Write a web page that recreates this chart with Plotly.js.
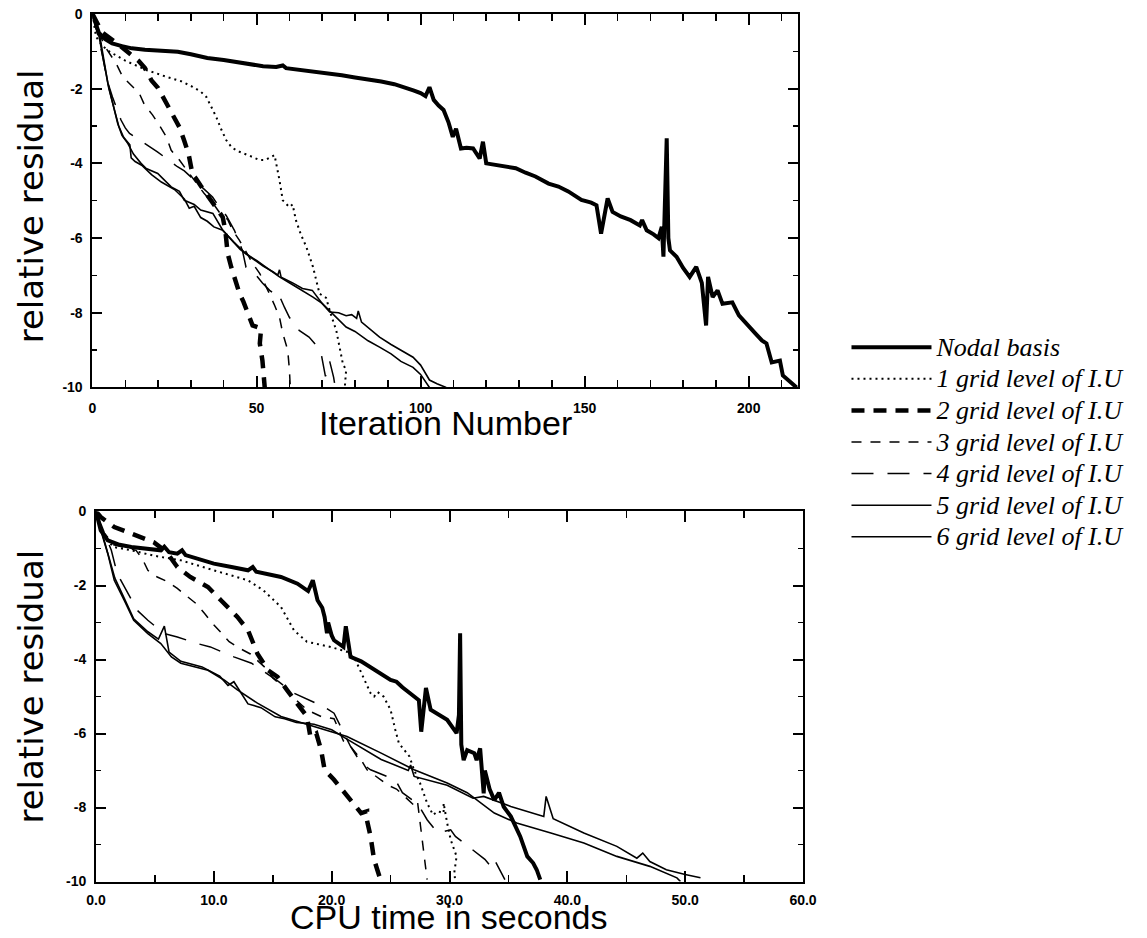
<!DOCTYPE html>
<html>
<head>
<meta charset="utf-8">
<script src="https://cdn.plot.ly/plotly-3.0.1.min.js"></script>
<style>html,body{margin:0;padding:0;background:#fff;}</style>
</head>
<body>
<div id="chart" style="width:1147px;height:938px;"></div>
<script>
// ---------- data: [iteration, log10 relative residual] ----------
const nodalIter = [[0,0],[1,-0.3],[2,-0.51],[4,-0.68],[6,-0.79],[9,-0.86],[12,-0.92],[16,-0.96],[20,-0.99],[26,-1.01],[30,-1.08],[35,-1.18],[40,-1.23],[45,-1.3],[49,-1.37],[52,-1.4],[56,-1.42],[58,-1.38],[59,-1.45],[62,-1.48],[67,-1.55],[72,-1.6],[76,-1.64],[80,-1.7],[85,-1.76],[88,-1.81],[92,-1.88],[96,-1.98],[98,-2.05],[100,-2.12],[101.5,-2.2],[102.7,-1.96],[104,-2.3],[105.5,-2.45],[107,-2.57],[108.5,-2.9],[109.8,-3.29],[110.8,-3.07],[112.3,-3.6],[114,-3.58],[116,-3.6],[118,-3.87],[119,-3.42],[120,-4.0],[123,-4.05],[126,-4.1],[129,-4.13],[132,-4.25],[135,-4.35],[139,-4.54],[142,-4.62],[145,-4.75],[146,-4.8],[149,-4.98],[152,-5.05],[153.6,-5.12],[155,-5.88],[157,-4.94],[158.5,-5.3],[161,-5.42],[164,-5.52],[166.8,-5.66],[167.5,-5.52],[168.9,-5.79],[171,-5.9],[172.5,-6.0],[173.5,-5.7],[174,-6.5],[175,-3.33],[175.5,-6.0],[176,-6.33],[177,-6.4],[178,-6.5],[180,-6.8],[182,-7.04],[184,-6.77],[185.7,-7.2],[187,-8.34],[187.6,-7.04],[189,-7.58],[190.5,-7.4],[192,-7.76],[195,-7.72],[197,-8.07],[200,-8.34],[202,-8.55],[204,-8.74],[205.4,-8.82],[207,-9.33],[209.5,-9.28],[210.4,-9.68],[212,-9.8],[214.6,-10]];
const grid1Iter = [[0,0],[1.1,-0.61],[3,-0.85],[5.2,-1.01],[10,-1.25],[16.4,-1.5],[22.5,-1.68],[27,-1.8],[30.5,-1.95],[33,-2.08],[34.7,-2.22],[36.3,-2.5],[37.7,-2.75],[39.3,-3.1],[40.8,-3.38],[42.5,-3.58],[44.8,-3.69],[48,-3.8],[50.9,-3.91],[52.7,-3.91],[54,-3.85],[55.5,-3.78],[57,-4.45],[58,-4.99],[60,-5.17],[61,-5.1],[62,-5.52],[63.5,-5.9],[65.2,-6.24],[67.2,-6.77],[69.2,-7.49],[71.2,-7.6],[72.5,-8.0],[74.3,-8.47],[76.3,-9.36],[77.3,-9.54],[76.9,-10]];
const grid2Iter = [[0,0],[3,-0.5],[8,-0.82],[12,-1.1],[14,-1.25],[16,-1.45],[18,-1.78],[20,-1.98],[22.5,-2.39],[24,-2.66],[26.5,-3.03],[28,-3.4],[29.3,-3.75],[30.5,-4.3],[31.5,-4.4],[33,-4.6],[36.6,-5.07],[38,-5.25],[39.7,-5.44],[40.5,-5.8],[41.2,-6.41],[42.3,-6.78],[44.8,-7.48],[46,-7.7],[47.9,-8.12],[48.8,-8.34],[51.4,-8.42],[51,-8.82],[51.8,-9.28],[52.2,-9.7],[52.5,-10]];
const grid3Iter = [[0,0],[2,-0.5],[4,-0.9],[6,-1.15],[7.2,-1.32],[9.2,-1.68],[11.8,-1.9],[14.3,-2.13],[15.9,-2.44],[18.3,-2.7],[20.4,-2.98],[22.5,-3.29],[24,-3.65],[26.5,-3.91],[28.5,-4.15],[31,-4.45],[34,-4.8],[37,-5.1],[39,-5.35],[41.2,-5.5],[42.7,-5.79],[44.8,-6.06],[47,-6.4],[49,-6.7],[51,-6.95],[52.4,-7.2],[54,-7.5],[55.5,-7.8],[57,-8.12],[58,-8.55],[59.5,-9.0],[60,-9.5],[60.3,-10]];
const grid4Iter = [[0,0],[1.5,-0.5],[2.3,-0.8],[3.1,-1.14],[4.6,-1.81],[6.1,-2.22],[8.7,-2.84],[10,-3.05],[11.3,-3.2],[14,-3.35],[16.8,-3.51],[19.8,-3.69],[23,-3.9],[25.9,-4.09],[28,-4.2],[30,-4.36],[33,-4.6],[36.6,-4.9],[38.5,-5.15],[40.8,-5.4],[43.3,-5.8],[45.7,-6.33],[46.8,-6.78],[49,-6.9],[51.8,-7.2],[54,-7.4],[55.5,-7.5],[56.5,-7.45],[58.5,-7.85],[60,-8.12],[63,-8.47],[66,-8.65],[68,-8.85],[69.7,-9.1],[71,-9.7],[72.3,-9.3],[73.5,-9.73],[74,-10]];
const grid5Iter = [[0,0],[1,-0.3],[2.1,-0.52],[3,-1.0],[3.7,-1.41],[4.7,-1.85],[5.7,-2.22],[7.7,-2.93],[9,-3.25],[10.8,-3.47],[12.5,-3.75],[14.8,-4.0],[16.4,-4.14],[19.9,-4.27],[21.4,-4.4],[24,-4.63],[26.5,-4.75],[28,-4.99],[31,-5.1],[33,-5.25],[36.7,-5.34],[38.5,-5.6],[39.7,-5.79],[43,-6.1],[46.8,-6.42],[50,-6.6],[54,-6.85],[57,-7.04],[61,-7.25],[64,-7.4],[67.2,-7.58],[70,-7.75],[74,-8.1],[77.3,-8.38],[80,-8.5],[84,-8.75],[87.5,-8.92],[91,-9.1],[94,-9.3],[97.7,-9.46],[100,-9.65],[102.7,-10]];
const grid6Iter = [[0,0],[1,-0.35],[2,-0.6],[3,-1.1],[4,-1.6],[5,-2.0],[6.5,-2.5],[8,-3.0],[9.5,-3.3],[10.8,-3.45],[11.4,-3.5],[11.8,-3.85],[13,-3.95],[15,-4.05],[18,-4.3],[21,-4.5],[25,-4.7],[28,-4.95],[29.5,-5.2],[31,-5.15],[33,-5.45],[35,-5.55],[37,-5.7],[39.7,-5.79],[42,-6.0],[45,-6.3],[48,-6.5],[52,-6.75],[55,-6.9],[56.5,-6.99],[57,-6.85],[57.5,-7.05],[61,-7.2],[64,-7.35],[67,-7.4],[70,-7.75],[72.3,-7.98],[75,-8.0],[77.3,-8.08],[79,-8.05],[80.5,-8.15],[81,-7.95],[82,-8.25],[84,-8.4],[87.5,-8.65],[91,-8.85],[94,-9.0],[97.7,-9.19],[100,-9.4],[102.7,-9.8],[105,-9.9],[107.8,-10]];

// ---------- data: [CPU seconds, log10 relative residual] ----------
const nodalCpu = [[0,0],[0.4,-0.51],[1.0,-0.78],[2,-0.9],[3,-0.96],[4.5,-1.02],[5.5,-1.05],[5.8,-0.95],[6.2,-1.1],[6.9,-1.14],[7.3,-1.05],[7.6,-1.18],[10,-1.41],[11.5,-1.5],[12.9,-1.59],[13.3,-1.5],[13.6,-1.63],[15.7,-1.77],[17.1,-1.95],[18.0,-2.15],[18.4,-1.86],[18.8,-2.4],[19.2,-2.6],[19.4,-2.85],[19.6,-3.29],[19.7,-3.0],[20.0,-3.35],[20.2,-3.48],[21,-3.66],[21.2,-3.1],[21.6,-3.93],[22.5,-4.05],[23.5,-4.25],[24.2,-4.38],[25,-4.55],[25.5,-4.6],[26,-4.75],[27,-5.0],[27.4,-5.1],[27.6,-5.95],[28,-4.77],[28.4,-5.36],[29.2,-5.5],[29.8,-5.63],[30.6,-5.99],[30.8,-5.5],[30.9,-3.29],[31.0,-6.3],[31.2,-6.72],[31.5,-6.45],[32.1,-6.53],[32.3,-6.72],[32.6,-6.4],[32.9,-7.62],[33.0,-7.0],[33.4,-7.5],[33.8,-7.8],[34.2,-7.6],[34.6,-7.98],[35.2,-8.24],[36,-8.78],[36.6,-9.32],[37.1,-9.5],[37.4,-9.68],[37.7,-9.95]];
const grid1Cpu = [[0,0],[0.4,-0.4],[0.7,-0.69],[1.5,-0.96],[3,-1.05],[5,-1.2],[7.2,-1.32],[10,-1.59],[12.9,-1.86],[14.2,-2.13],[15.7,-2.58],[16.8,-3.21],[17.9,-3.52],[19.9,-3.66],[21.3,-3.79],[22,-4.0],[22.7,-4.47],[23.3,-4.91],[23.6,-5.0],[23.9,-4.88],[24.4,-5.0],[25,-5.36],[25.4,-5.9],[25.7,-6.26],[26.6,-6.62],[27,-6.99],[27.5,-7.34],[28.1,-7.88],[28.6,-8.2],[29.0,-8.1],[29.5,-8.15],[29.5,-7.88],[29.8,-8.42],[30.1,-8.87],[30.6,-9.32],[30.4,-9.77],[30.5,-10]];
const grid2Cpu = [[0,0],[0.4,-0.15],[1.55,-0.42],[3,-0.6],[4.9,-0.83],[6,-1.1],[6.9,-1.5],[8,-1.77],[9.5,-2.04],[10.6,-2.4],[12,-2.85],[12.9,-3.21],[13.7,-3.84],[14.6,-4.29],[15.4,-4.47],[16.2,-4.82],[17.1,-5.18],[17.9,-5.54],[18.2,-6.1],[18.7,-6.0],[19.1,-6.44],[19.4,-6.98],[20.2,-7.25],[21.3,-7.7],[22.5,-8.15],[23,-8.1],[23,-8.35],[23.3,-8.78],[23.6,-9.41],[24,-9.81],[24.2,-10]];
const grid3Cpu = [[0,0],[0.5,-0.5],[1.5,-0.9],[3.4,-1.05],[4,-1.32],[4.4,-1.59],[5.2,-1.77],[6.1,-1.9],[6.9,-2.08],[7.6,-2.26],[8.5,-2.49],[9.2,-2.75],[9.9,-3.03],[10.7,-3.3],[11.3,-3.52],[12.2,-3.7],[13.1,-3.85],[14.6,-4.29],[15,-4.5],[16.1,-4.8],[17,-5.1],[17.9,-5.36],[19.1,-5.54],[20.2,-5.6],[21,-6.2],[21.6,-6.35],[22.5,-6.71],[23,-6.98],[24.8,-7.4],[25.5,-7.5],[27.2,-8.0],[27.3,-7.88],[27.7,-9.0],[28.1,-9.95]];
const grid4Cpu = [[0,0],[0.5,-0.4],[1.3,-1.05],[1.8,-1.68],[2.4,-2.04],[3.5,-2.67],[4.4,-2.94],[5.8,-3.3],[6.9,-3.39],[8.6,-3.57],[9.7,-3.66],[11.7,-3.93],[13.2,-4.1],[14.1,-4.29],[15.5,-4.6],[16.8,-4.91],[19.3,-5.27],[20.2,-5.45],[21,-5.99],[21.6,-6.35],[22.5,-6.8],[23.3,-6.98],[25.4,-7.25],[26,-7.6],[27.3,-7.9],[28.1,-8.33],[29,-8.69],[30.1,-8.6],[30.5,-8.78],[31.2,-8.96],[31.6,-9.05],[32.3,-9.23],[33.0,-9.4],[33.5,-9.59],[33.8,-9.4],[34.7,-9.95]];
const grid5Cpu = [[0,0],[0.4,-0.5],[1,-1.14],[1.55,-1.86],[2.4,-2.4],[3.2,-2.94],[4.4,-3.3],[5.5,-3.57],[6.4,-3.93],[7.2,-4.1],[9.5,-4.29],[10.9,-4.56],[12,-4.82],[13.7,-5.18],[15.7,-5.54],[18.5,-5.81],[21.3,-6.08],[24.2,-6.53],[27,-6.98],[29.8,-7.34],[31.5,-7.6],[33.8,-8.15],[35.7,-8.42],[38.6,-8.69],[41.4,-8.96],[44.2,-9.32],[47,-9.59],[49.3,-9.9],[49.6,-10]];
const grid6Cpu = [[0,0],[0.4,-0.45],[1,-1.1],[1.6,-1.8],[2.4,-2.35],[3.2,-2.9],[4.4,-3.25],[5.3,-3.45],[5.8,-3.1],[6.2,-3.8],[7.2,-4.05],[9,-4.2],[10.5,-4.45],[11.2,-4.7],[11.7,-4.6],[12.3,-4.9],[12.9,-5.2],[14,-5.3],[15.2,-5.55],[16,-5.6],[17,-5.7],[18.5,-5.75],[20,-5.9],[21.3,-6.15],[24.2,-6.7],[26.5,-7.0],[26.7,-6.85],[27,-7.16],[29.8,-7.4],[32,-7.75],[32.9,-7.7],[35.2,-7.97],[38,-8.24],[38.2,-7.7],[38.8,-8.3],[41.4,-8.69],[44.2,-9.05],[45.9,-9.37],[46.4,-9.23],[47,-9.46],[48.4,-9.68],[50,-9.81],[51.1,-9.9],[51.3,-9.9]];

// ---------- labels ----------
const seriesNames = ['Nodal basis','1 grid level of I.U','2 grid level of I.U','3 grid level of I.U','4 grid level of I.U','5 grid level of I.U','6 grid level of I.U'];
const iterTickVals = [0,50,100,150,200];
const iterTickText = ['0','50','100','150','200'];
const cpuTickVals = [0,10,20,30,40,50,60];
const cpuTickText = ['0.0','10.0','20.0','30.0','40.0','50.0','60.0'];
const resTickVals = [0,-2,-4,-6,-8,-10];
const resTickText = ['0','-2','-4','-6','-8','-10'];
const yTitle = 'relative residual';
const xTitleTop = 'Iteration Number';
const xTitleBottom = 'CPU time in seconds';

// ---------- styles ----------
const styles = [
  {width:4, dash:'solid'},
  {width:2, dash:'2px,4px'},
  {width:4.5, dash:'13px,9px'},
  {width:1.5, dash:'10px,9px'},
  {width:1.5, dash:'22px,14px'},
  {width:1.6, dash:'solid'},
  {width:1.6, dash:'solid'}
];
const topSets = [nodalIter, grid1Iter, grid2Iter, grid3Iter, grid4Iter, grid5Iter, grid6Iter];
const botSets = [nodalCpu, grid1Cpu, grid2Cpu, grid3Cpu, grid4Cpu, grid5Cpu, grid6Cpu];

const traces = [];
topSets.forEach((d, i) => {
  traces.push({
    type:'scatter', mode:'lines', xaxis:'x', yaxis:'y',
    x:d.map(p=>p[0]), y:d.map(p=>p[1]),
    name:'<span style="font-size:26px">' + seriesNames[i] + '</span>',
    line:{color:'black', width:styles[i].width, dash:styles[i].dash},
    showlegend:true, hoverinfo:'skip'
  });
});
botSets.forEach((d, i) => {
  traces.push({
    type:'scatter', mode:'lines', xaxis:'x2', yaxis:'y2',
    x:d.map(p=>p[0]), y:d.map(p=>p[1]),
    name:seriesNames[i],
    line:{color:'black', width:styles[i].width, dash:styles[i].dash},
    showlegend:false, hoverinfo:'skip'
  });
});

const tickFont = {family:'Liberation Sans, Arial, sans-serif', size:14, weight:'bold', color:'black'};
const baseAx = {
  showgrid:false, zeroline:false, showline:true, linecolor:'black', linewidth:2,
  mirror:'ticks', ticks:'inside', tickcolor:'black', tickwidth:2,
  tickfont:tickFont, tickmode:'array', fixedrange:true
};

const layout = {
  width:1147, height:938,
  margin:{l:0, r:0, t:0, b:0},
  paper_bgcolor:'white', plot_bgcolor:'white',
  showlegend:true,
  legend:{
    x:0.738, xanchor:'left', y:0.652, yanchor:'top',
    font:{family:'Liberation Serif, Times New Roman, serif', size:22, style:'italic', color:'black'},
    itemwidth:80, tracegroupgap:0, bgcolor:'rgba(0,0,0,0)', borderwidth:0, traceorder:'normal'
  },
  xaxis: Object.assign({}, baseAx, {
    domain:[0.0806, 0.6957], range:[0,215], anchor:'y',
    tickvals:iterTickVals, ticktext:iterTickText, ticklen:11, ticklabelstandoff:7,
    minor:{tickmode:'linear', tick0:0, dtick:10, ticks:'inside', ticklen:7, tickwidth:1.5, tickcolor:'black'}
  }),
  yaxis: Object.assign({}, baseAx, {
    domain:[0.5869, 0.9851], range:[-10,0], anchor:'x',
    tickvals:resTickVals, ticktext:resTickText, ticklen:10, ticklabelstandoff:5,
    minor:{tickmode:'linear', tick0:0, dtick:1, ticks:'inside', ticklen:5, tickwidth:1.5, tickcolor:'black'}
  }),
  xaxis2: Object.assign({}, baseAx, {
    domain:[0.0837, 0.7001], range:[0,60], anchor:'y2',
    tickvals:cpuTickVals, ticktext:cpuTickText, ticklen:11, ticklabelstandoff:5,
    minor:{tickmode:'linear', tick0:0, dtick:5, ticks:'inside', ticklen:7, tickwidth:1.5, tickcolor:'black'}
  }),
  yaxis2: Object.assign({}, baseAx, {
    domain:[0.0602, 0.4547], range:[-10,0], anchor:'x2',
    tickvals:resTickVals, ticktext:resTickText, ticklen:10, ticklabelstandoff:5,
    minor:{tickmode:'linear', tick0:0, dtick:1, ticks:'inside', ticklen:5, tickwidth:1.5, tickcolor:'black'}
  }),
  annotations:[
    {text:yTitle, xref:'paper', yref:'paper', x:0.027, y:0.780, textangle:-90, showarrow:false,
     xanchor:'center', yanchor:'middle', font:{family:'DejaVu Sans, sans-serif', size:34, color:'black'}},
    {text:yTitle, xref:'paper', yref:'paper', x:0.027, y:0.268, textangle:-90, showarrow:false,
     xanchor:'center', yanchor:'middle', font:{family:'DejaVu Sans, sans-serif', size:34, color:'black'}},
    {text:xTitleTop, xref:'paper', yref:'paper', x:0.388, y:0.549, showarrow:false,
     xanchor:'center', yanchor:'middle', font:{family:'Liberation Sans, Arial, sans-serif', size:34, color:'black'}},
    {text:xTitleBottom, xref:'paper', yref:'paper', x:0.391, y:0.022, showarrow:false,
     xanchor:'center', yanchor:'middle', font:{family:'Liberation Sans, Arial, sans-serif', size:34, color:'black'}}
  ]
};

Plotly.newPlot('chart', traces, layout, {staticPlot:true, displayModeBar:false});
</script>
</body>
</html>
